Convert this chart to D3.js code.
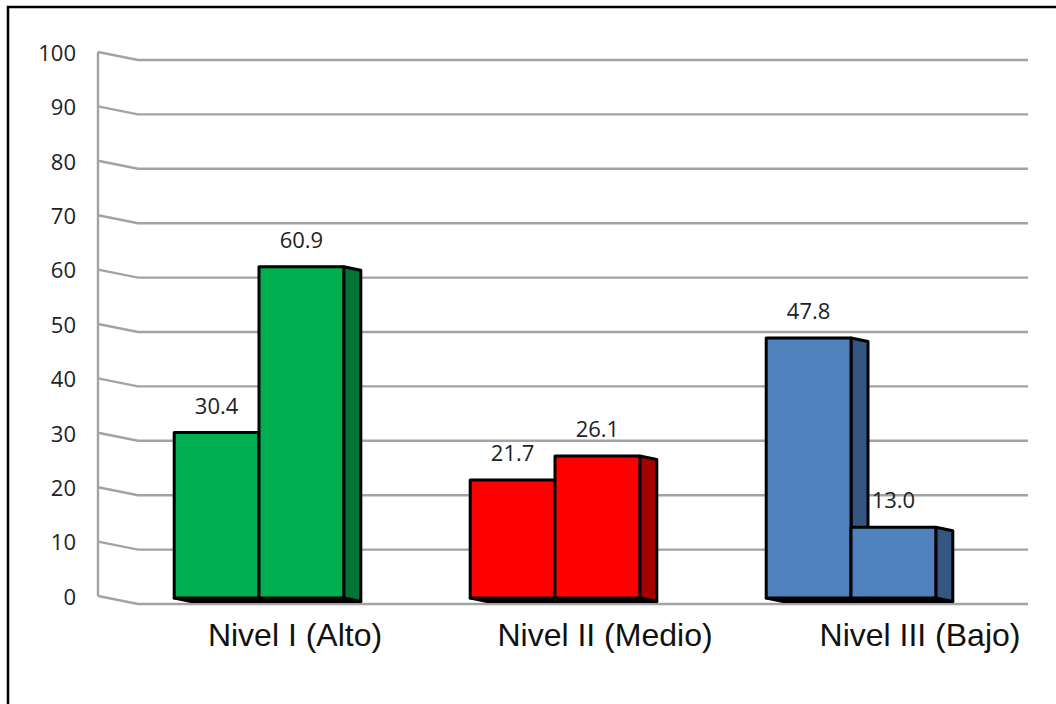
<!DOCTYPE html>
<html>
<head>
<meta charset="utf-8">
<script src="https://cdn.jsdelivr.net/npm/d3@7"></script>
<style>
html, body { margin: 0; padding: 0; background: #fff; }
svg { display: block; }
</style>
</head>
<body>
<script>
// Nivel categories and percentage values for the two bars in each group
const categories = ["Nivel I (Alto)", "Nivel II (Medio)", "Nivel III (Bajo)"];
const firstBar = [30.4, 21.7, 47.8];
const secondBar = [60.9, 26.1, 13.0];
const firstLabels = ["30.4", "21.7", "47.8"];
const secondLabels = ["60.9", "26.1", "13.0"];
const frontColors = ["#00b050", "#ff0000", "#4f81bd"];
const sideColors = ["#007437", "#a40000", "#345680"];
const tickValues = d3.range(0, 101, 10);

const width = 1056, height = 704;
const depthX = 40, depthY = 8;      // wall depth of the pseudo-3D box
const barDepthX = 17, barDepthY = 3.5;

const svg = d3.select("body").append("svg")
  .attr("width", width).attr("height", height);

// Outer frame, open past the right and bottom edges of the page
svg.append("rect")
  .attr("x", 8).attr("y", 7)
  .attr("width", 1060).attr("height", 720)
  .attr("fill", "none").attr("stroke", "#000").attr("stroke-width", 2.5);

const y = d3.scaleLinear().domain([0, 100]).range([596, 52]);
const barBase = y(0) + 2;
const yBar = v => barBase - (y(0) - y(v));

const x = d3.scaleBand().domain(categories).range([111, 999]).paddingInner(0.427).paddingOuter(0.2135);
const inner = d3.scaleBand().domain([0, 1]).range([0, x.bandwidth()]);

// Walls: vertical axis, slanted ticks and back gridlines
const wall = svg.append("g").attr("fill", "none").attr("stroke", "#a3a3a3").attr("stroke-width", 2.4);
wall.append("line")
  .attr("x1", 98).attr("x2", 98)
  .attr("y1", y(100)).attr("y2", y(0));
wall.selectAll("path.grid").data(tickValues).join("path")
  .attr("class", "grid")
  .attr("d", d => d3.line()([
    [98, y(d)],
    [98 + depthX, y(d) + depthY],
    [1028, y(d) + depthY]
  ]));

// Axis numbers
svg.append("g").selectAll("text").data(tickValues).join("text")
  .attr("x", 76).attr("y", d => y(d) + 1)
  .attr("dy", "0.35em")
  .attr("text-anchor", "end")
  .attr("font-family", "'Open Sans', sans-serif")
  .attr("font-size", 22)
  .attr("fill", "#222")
  .text(d => d);

// Each bar: floor shadow, side face, front face
const bars = [];
categories.forEach((c, i) => {
  bars.push({ cat: c, i, slot: 0, value: firstBar[i], label: firstLabels[i] });
  bars.push({ cat: c, i, slot: 1, value: secondBar[i], label: secondLabels[i] });
});

const barGroup = svg.append("g").attr("stroke", "#000").attr("stroke-width", 3).attr("stroke-linejoin", "round");

// Left bars are painted first so the right neighbour's front face covers their side
const drawBar = d => {
  const x0 = x(d.cat) + inner(d.slot), x1 = x0 + inner.bandwidth();
  const top = yBar(d.value);
  const g = barGroup.append("g");
  g.append("path")
    .attr("fill", "#111")
    .attr("d", d3.line()([[x0, barBase], [x1, barBase], [x1 + barDepthX, barBase + barDepthY], [x0 + barDepthX, barBase + barDepthY]]) + "Z");
  g.append("path")
    .attr("fill", sideColors[d.i])
    .attr("d", d3.line()([[x1, top], [x1 + barDepthX, top + barDepthY], [x1 + barDepthX, barBase + barDepthY], [x1, barBase]]) + "Z");
  g.append("rect")
    .attr("x", x0).attr("y", top)
    .attr("width", x1 - x0).attr("height", barBase - top)
    .attr("fill", frontColors[d.i]);
};
bars.forEach(drawBar);

// Value labels
svg.append("g").selectAll("text").data(bars).join("text")
  .attr("x", d => x(d.cat) + inner(d.slot) + inner.bandwidth() / 2)
  .attr("y", d => yBar(d.value) - 19)
  .attr("text-anchor", "middle")
  .attr("font-family", "'Open Sans', sans-serif")
  .attr("font-size", 22)
  .attr("fill", "#222")
  .text(d => d.label);

// Category labels
const catOffset = [36, 50, 69];
svg.append("g").selectAll("text").data(categories).join("text")
  .attr("x", (d, i) => x(d) + catOffset[i] + x.bandwidth() / 2)
  .attr("y", 646)
  .attr("text-anchor", "middle")
  .attr("font-family", "'Liberation Sans', Arial, sans-serif")
  .attr("font-size", 32)
  .attr("fill", "#111")
  .text(d => d);
</script>
</body>
</html>
